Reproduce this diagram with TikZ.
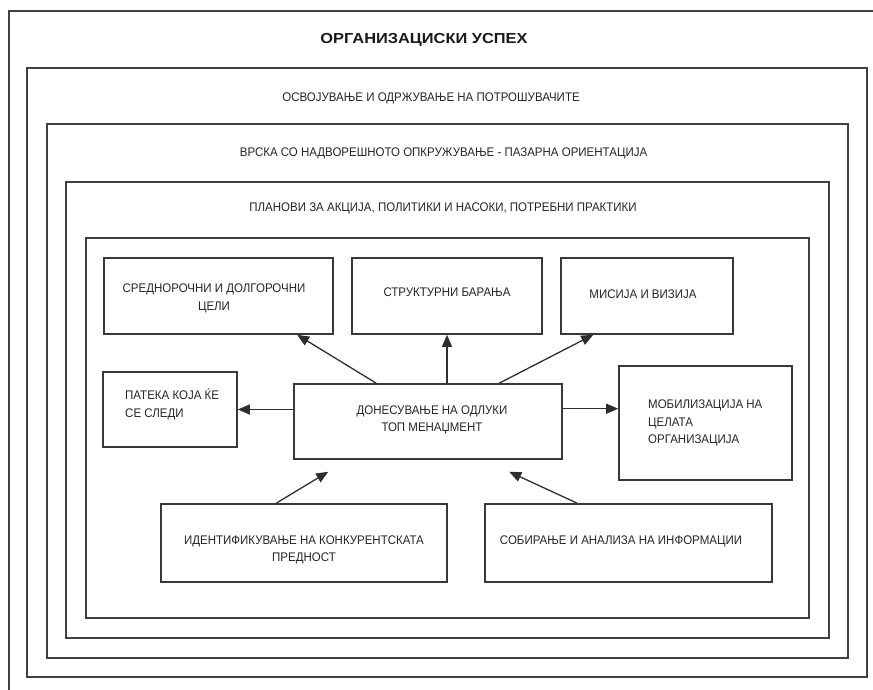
\documentclass[tikz,border=0pt]{standalone}
\usepackage{fontspec}
\setmainfont{Liberation Sans}
\usetikzlibrary{arrows.meta}

% narrow lettering: set a block of lines and squeeze it sideways
\newcommand\narrowtext[2]{\scalebox{0.92}[1]{\begin{tabular}{@{}#1@{}}#2\end{tabular}}}

\tikzset{
  frame/.style={draw=black!75, line width=1.7pt},
  box/.style={draw=black!78, line width=1.6pt, inner sep=0pt},
  txt/.style={text=black!85, inner sep=0pt, font=\fontsize{12.5}{17.5}\selectfont},
  title/.style={text=black!90, inner sep=0pt, font=\fontsize{14.5}{16}\selectfont\bfseries},
  arr/.style={draw=black!82, line width=1.3pt, -{Triangle[length=12pt,width=10pt]}}
}

\begin{document}
\begin{tikzpicture}[x=1pt,y=-1pt]
  \useasboundingbox (0,0) rectangle (873,690);
  \clip (0,0) rectangle (873,690);

  % nested frames, the outermost one runs past the page
  \draw[frame] (9,11) rectangle (900,720);
  \draw[frame] (27,68) rectangle (867,677);
  \draw[frame] (47,124) rectangle (848,658);
  \draw[frame] (66,182) rectangle (829,638);
  \draw[frame] (86,238) rectangle (809,618);

  % frame headings
  \node[title] (t0) at (424,40) {\resizebox{207pt}{\height}{ОРГАНИЗАЦИСКИ УСПЕХ}};
  \node[txt] (t1) at (431,98) {\narrowtext{c}{ОСВОЈУВАЊЕ И ОДРЖУВАЊЕ НА ПОТРОШУВАЧИТЕ}};
  \node[txt] (t2) at (443.5,153) {\narrowtext{c}{ВРСКА СО НАДВОРЕШНОТО ОПКРУЖУВАЊЕ - ПАЗАРНА ОРИЕНТАЦИЈА}};
  \node[txt] (t3) at (443,208) {\narrowtext{c}{ПЛАНОВИ ЗА АКЦИЈА, ПОЛИТИКИ И НАСОКИ, ПОТРЕБНИ ПРАКТИКИ}};

  % boxes
  \node[box, minimum width=229pt, minimum height=76pt] (goals)   at (218.5,296) {};
  \node[box, minimum width=190pt, minimum height=76pt] (struct)  at (447,296)   {};
  \node[box, minimum width=172pt, minimum height=76pt] (mission) at (647,296)   {};
  \node[box, minimum width=134pt, minimum height=75pt] (path)    at (170,409.5) {};
  \node[box, minimum width=268pt, minimum height=75pt] (dec)     at (428,421.5) {};
  \node[box, minimum width=173pt, minimum height=114pt] (mob)    at (705.5,423) {};
  \node[box, minimum width=286pt, minimum height=78pt] (ident)   at (304,543)   {};
  \node[box, minimum width=287pt, minimum height=78pt] (info)    at (628.5,543) {};

  % box texts
  \node[txt] (goalsT)   at (214,298)   {\narrowtext{c}{СРЕДНОРОЧНИ И ДОЛГОРОЧНИ\\ЦЕЛИ}};
  \node[txt] (structT)  at (447,293)   {\narrowtext{c}{СТРУКТУРНИ БАРАЊА}};
  \node[txt] (missionT) at (643,295)   {\narrowtext{c}{МИСИЈА И ВИЗИЈА}};
  \node[txt, anchor=west] (pathT) at (125,405) {\narrowtext{l}{ПАТЕКА КОЈА ЌЕ\\СЕ СЛЕДИ}};
  \node[txt] (decT)     at (432,419.5) {\narrowtext{c}{ДОНЕСУВАЊЕ НА ОДЛУКИ\\ТОП МЕНАЏМЕНТ}};
  \node[txt, anchor=west] (mobT) at (648,422.5) {\narrowtext{l}{МОБИЛИЗАЦИЈА НА\\ЦЕЛАТА\\ОРГАНИЗАЦИЈА}};
  \node[txt] (identT)   at (304,549.5) {\narrowtext{c}{ИДЕНТИФИКУВАЊЕ НА КОНКУРЕНТСКАТА\\ПРЕДНОСТ}};
  \node[txt] (infoT)    at (621,541)   {\narrowtext{c}{СОБИРАЊЕ И АНАЛИЗА НА ИНФОРМАЦИИ}};

  % start of the right arrow, and free ends of the two incoming arrows
  \coordinate (outR) at ([yshift=-25.5pt]dec.north east);
  \coordinate (inL) at ([xshift=35pt,yshift=-12pt]dec.south west);
  \coordinate (inR) at ([xshift=216pt,yshift=-12pt]dec.south west);

  % connectors
  \draw[arr] ([xshift=83pt]dec.north west) -- ([xshift=194pt]goals.south west);
  \draw[arr] (dec.north -| struct.south) -- (struct.south);
  \draw[arr] ([xshift=206pt]dec.north west) -- ([xshift=33pt]mission.south west);
  \draw[arr] (dec.west |- path.east) -- (path.east);
  \draw[arr] (outR) -- (mob.west |- outR);
  \draw[arr] ([xshift=116pt]ident.north west) -- (inL);
  \draw[arr] ([xshift=93pt]info.north west) -- (inR);
\end{tikzpicture}
\end{document}
